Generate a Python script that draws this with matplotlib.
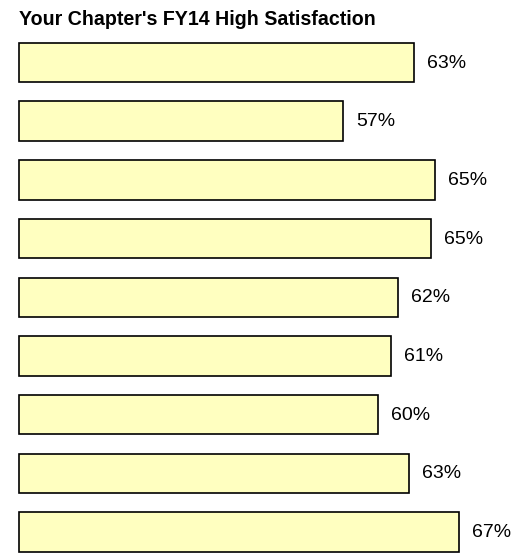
import matplotlib
matplotlib.use("Agg")
import matplotlib.pyplot as plt

plt.rcParams['font.family'] = ['Liberation Sans', 'DejaVu Sans']

title = "Your Chapter's FY14 High Satisfaction"
categories = ["Q1", "Q2", "Q3", "Q4", "Q5", "Q6", "Q7", "Q8", "Q9"]
values = [0.631, 0.570, 0.649, 0.646, 0.617, 0.611, 0.600, 0.627, 0.670]
axis_min = 0.2907

W, H = 519, 556
fig = plt.figure(figsize=(W / 100, H / 100), dpi=100)
left_px, top_px = 19, 33.15
ax_w_px = 475
ax = fig.add_axes([left_px / W, 0, ax_w_px / W, (H - top_px) / H])

ypos = list(range(len(categories)))
ax.barh(ypos, [v - axis_min for v in values], height=0.673, left=axis_min,
        color='#FFFFC0', edgecolor='black', linewidth=1.2, clip_on=False)
ax.set_xlim(axis_min, axis_min + ax_w_px / 1160)
ax.set_ylim(-0.5 + (H - top_px) / 58.69, -0.5)
for y, v in zip(ypos, values):
    ax.annotate(f"{round(v * 100)}%", xy=(v, y), xytext=(9.5, -0.4),
                textcoords='offset points', va='center', ha='left', fontsize=14,
                color='black', annotation_clip=False)
ax.axis('off')
fig.text(left_px / W, 1 - 25.3 / H, title, fontsize=14.1, fontweight='bold',
         ha='left', va='baseline')
fig.savefig("out.png", dpi=100)
